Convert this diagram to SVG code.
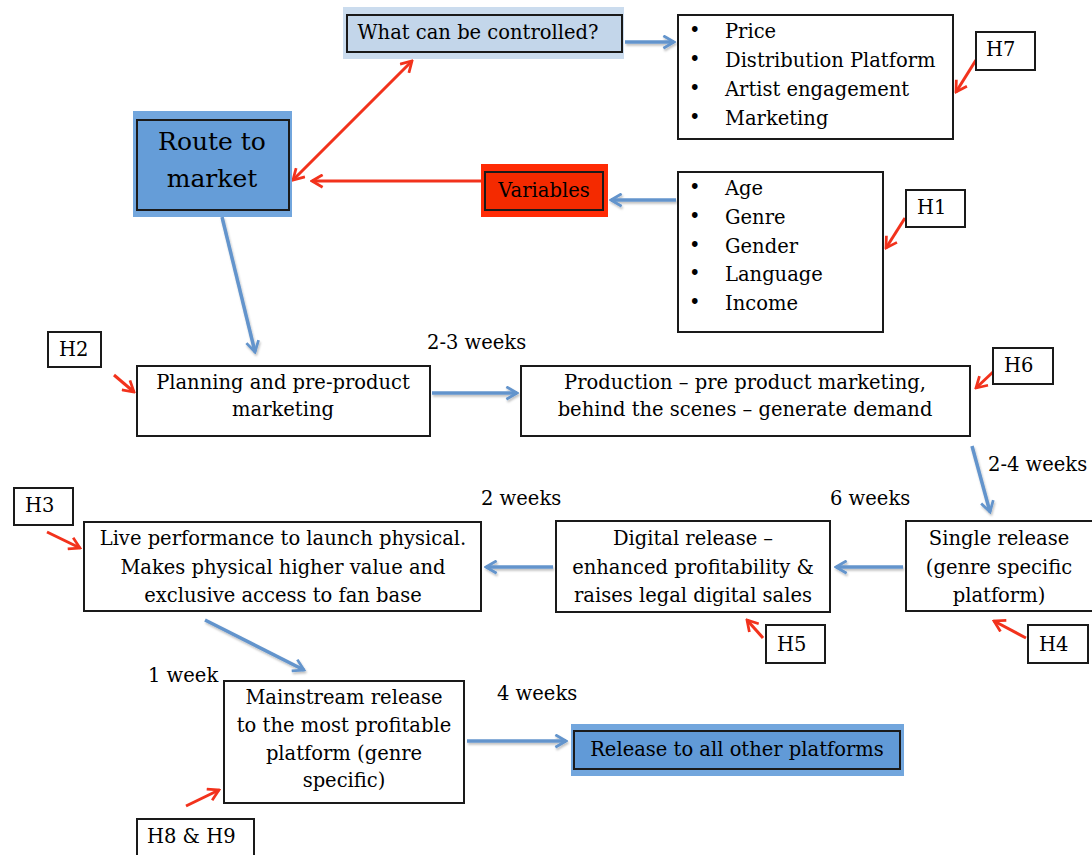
<svg xmlns="http://www.w3.org/2000/svg" width="1092" height="855" viewBox="0 0 1092 855">
  <style>
    text { font-family: "DejaVu Serif", "Liberation Serif", serif; fill: #000; }
    .t { font-size: 19.5px; }
    .c { text-anchor: middle; }
    .box { fill: #fff; stroke: #1a1a1a; stroke-width: 2; }
    .tag { fill: #fff; stroke: #1a1a1a; stroke-width: 2; }
    .blue { stroke: #6394cc; stroke-width: 3.5; fill: none; marker-end: url(#ab); filter: url(#sh); }
    .red { stroke: #f2321c; stroke-width: 3; fill: none; marker-end: url(#ar); }
  </style>
  <defs>
    <marker id="ab" viewBox="0 0 12 12" refX="10.5" refY="6" markerWidth="15" markerHeight="15" markerUnits="userSpaceOnUse" orient="auto-start-reverse">
      <path d="M2,1 L10.5,6 L2,11" fill="none" stroke="#6394cc" stroke-width="2.2"/>
    </marker>
    <marker id="ar" viewBox="0 0 12 12" refX="10.5" refY="6" markerWidth="15" markerHeight="15" markerUnits="userSpaceOnUse" orient="auto-start-reverse">
      <path d="M2,1 L10.5,6 L2,11" fill="none" stroke="#f2321c" stroke-width="2.2"/>
    </marker>
    <!-- user-space region so straight horizontal/vertical lines keep their shadow -->
    <filter id="sh" filterUnits="userSpaceOnUse" x="0" y="0" width="1092" height="855">
      <feDropShadow dx="1" dy="2" stdDeviation="1.2" flood-color="#000" flood-opacity="0.25"/>
    </filter>
  </defs>

  <!-- connectors -->
  <g id="connectors">
    <line class="blue" x1="625" y1="42" x2="674" y2="42"/>
    <line class="blue" x1="676" y1="200" x2="611" y2="200"/>
    <line class="red" x1="485" y1="181" x2="312" y2="181"/>
    <line class="red" x1="293" y1="180" x2="412" y2="61" marker-start="url(#ar)"/>
    <line class="blue" x1="222" y1="217" x2="255" y2="352"/>
    <line class="blue" x1="432" y1="393" x2="517" y2="393"/>
    <line class="blue" x1="972" y1="446" x2="990" y2="512"/>
    <line class="blue" x1="903" y1="567" x2="836" y2="567"/>
    <line class="blue" x1="553" y1="567" x2="486" y2="567"/>
    <line class="blue" x1="205" y1="620" x2="304" y2="670"/>
    <line class="blue" x1="467" y1="741" x2="566" y2="741"/>
    <!-- hypothesis pointers -->
    <line class="red" x1="976" y1="60" x2="956" y2="92"/>
    <line class="red" x1="905" y1="218" x2="886" y2="248"/>
    <line class="red" x1="114" y1="375" x2="134" y2="392"/>
    <line class="red" x1="993" y1="372" x2="976" y2="388"/>
    <line class="red" x1="1026" y1="638" x2="994" y2="621"/>
    <line class="red" x1="763" y1="638" x2="747" y2="620"/>
    <line class="red" x1="47" y1="532" x2="80" y2="548"/>
    <line class="red" x1="186" y1="806" x2="219" y2="790"/>
  </g>

  <!-- top section -->
  <g id="controlled">
    <rect x="343" y="7" width="281" height="52" fill="#cbdcee"/>
    <rect x="347" y="15" width="275" height="37" fill="#c3d6ea" stroke="#1a1a1a" stroke-width="2"/>
    <text class="t c" x="478" y="39">What can be controlled?</text>
  </g>

  <g id="route">
    <rect x="133" y="111" width="159" height="106" fill="#72a6dd"/>
    <rect x="137" y="120" width="152" height="90" fill="#659dd8" stroke="#1a1a1a" stroke-width="2"/>
    <text class="c" x="212" y="150" font-size="25">Route to</text>
    <text class="c" x="212" y="187" font-size="25">market</text>
  </g>

  <g id="variables">
    <rect x="481" y="164" width="127" height="53" fill="#ff2b05"/>
    <rect x="485" y="172" width="118" height="38" fill="#f42a00" stroke="#1a1a1a" stroke-width="2"/>
    <text class="t c" x="544" y="197">Variables</text>
  </g>

  <g id="controls-list">
    <rect class="box" x="678" y="15" width="275" height="124"/>
    <g class="t">
      <text x="689" y="37">•</text><text x="725" y="38">Price</text>
      <text x="689" y="66">•</text><text x="725" y="67">Distribution Platform</text>
      <text x="689" y="95">•</text><text x="725" y="96">Artist engagement</text>
      <text x="689" y="124">•</text><text x="725" y="125">Marketing</text>
    </g>
  </g>

  <g id="h7">
    <rect class="tag" x="976" y="32" width="59" height="38"/>
    <text class="t" x="986" y="56">H7</text>
  </g>

  <g id="variables-list">
    <rect class="box" x="678" y="172" width="205" height="160"/>
    <g class="t">
      <text x="689" y="194">•</text><text x="725" y="195">Age</text>
      <text x="689" y="223">•</text><text x="725" y="224">Genre</text>
      <text x="689" y="252">•</text><text x="725" y="253">Gender</text>
      <text x="689" y="280">•</text><text x="725" y="281">Language</text>
      <text x="689" y="309">•</text><text x="725" y="310">Income</text>
    </g>
  </g>

  <g id="h1">
    <rect class="tag" x="906" y="190" width="59" height="37"/>
    <text class="t" x="917" y="214">H1</text>
  </g>

  <!-- process flow -->
  <g id="h2">
    <rect class="tag" x="48" y="332" width="53" height="35"/>
    <text class="t" x="59" y="356">H2</text>
  </g>

  <g id="planning">
    <rect class="box" x="137" y="366" width="293" height="70"/>
    <text class="t c" x="283" y="389">Planning and pre-product</text>
    <text class="t c" x="283" y="416">marketing</text>
  </g>

  <text class="t" x="427" y="349">2-3 weeks</text>

  <g id="production">
    <rect class="box" x="521" y="366" width="449" height="70"/>
    <text class="t c" x="745" y="389">Production – pre product marketing,</text>
    <text class="t c" x="745" y="416">behind the scenes – generate demand</text>
  </g>

  <g id="h6">
    <rect class="tag" x="993" y="348" width="60" height="36"/>
    <text class="t" x="1004" y="372">H6</text>
  </g>

  <text class="t" x="988" y="471">2-4 weeks</text>

  <g id="single">
    <rect class="box" x="906" y="521" width="190" height="90"/>
    <text class="t c" x="999" y="545">Single release</text>
    <text class="t c" x="999" y="574">(genre specific</text>
    <text class="t c" x="999" y="602">platform)</text>
  </g>

  <g id="h4">
    <rect class="tag" x="1028" y="625" width="60" height="38"/>
    <text class="t" x="1039" y="651">H4</text>
  </g>

  <text class="t" x="830" y="505">6 weeks</text>

  <g id="digital">
    <rect class="box" x="556" y="521" width="274" height="91"/>
    <text class="t c" x="693" y="545">Digital release –</text>
    <text class="t c" x="693" y="574">enhanced profitability &amp;</text>
    <text class="t c" x="693" y="602">raises legal digital sales</text>
  </g>

  <g id="h5">
    <rect class="tag" x="766" y="625" width="59" height="38"/>
    <text class="t" x="777" y="651">H5</text>
  </g>

  <text class="t" x="481" y="505">2 weeks</text>

  <g id="live">
    <rect class="box" x="84" y="522" width="397" height="89"/>
    <text class="t c" x="283" y="545">Live performance to launch physical.</text>
    <text class="t c" x="283" y="574">Makes physical higher value and</text>
    <text class="t c" x="283" y="602">exclusive access to fan base</text>
  </g>

  <g id="h3">
    <rect class="tag" x="14" y="488" width="59" height="37"/>
    <text class="t" x="25" y="512">H3</text>
  </g>

  <text class="t" x="148" y="682">1 week</text>

  <g id="mainstream">
    <rect class="box" x="224" y="681" width="240" height="122"/>
    <text class="t c" x="344" y="704">Mainstream release</text>
    <text class="t c" x="344" y="732">to the most profitable</text>
    <text class="t c" x="344" y="760">platform (genre</text>
    <text class="t c" x="344" y="787">specific)</text>
  </g>

  <text class="t" x="497" y="700">4 weeks</text>

  <g id="release-all">
    <rect x="571" y="724" width="333" height="52" fill="#72a6dd"/>
    <rect x="574" y="731" width="326" height="38" fill="#619ad7" stroke="#1a1a1a" stroke-width="2"/>
    <text class="t c" x="737" y="756">Release to all other platforms</text>
  </g>

  <g id="h8-h9">
    <rect class="tag" x="137" y="819" width="117" height="40"/>
    <text class="t" x="147" y="843">H8 &amp; H9</text>
  </g>
</svg>
